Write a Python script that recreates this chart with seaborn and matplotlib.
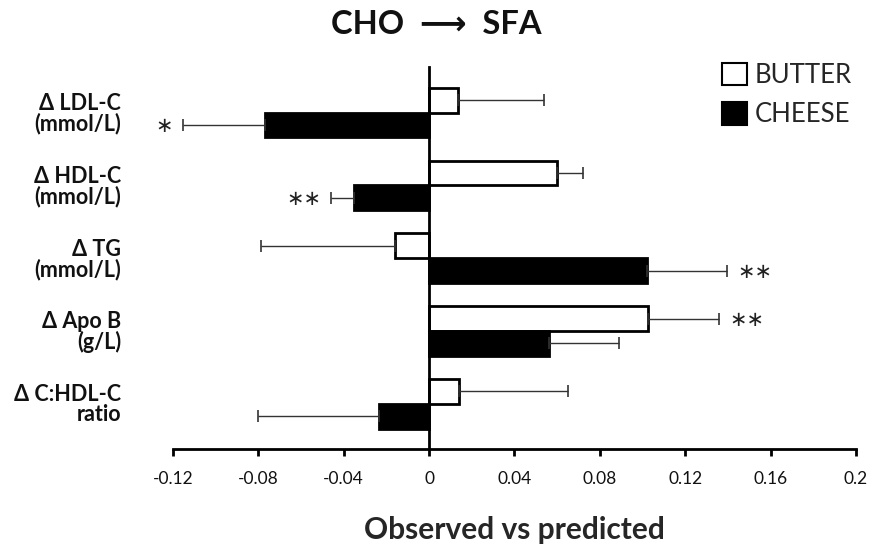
import matplotlib
matplotlib.use("Agg")
import matplotlib.pyplot as plt
import matplotlib.patches as mpatches
import seaborn as sns
import pandas as pd
import numpy as np

# ---- data ----
categories = ["Δ LDL-C", "Δ HDL-C", "Δ TG", "Δ Apo B", "Δ C:HDL-C"]
units = ["(mmol/L)", "(mmol/L)", "(mmol/L)", "(g/L)", "ratio"]
groups = ["BUTTER", "CHEESE"]
butter = [0.0134, 0.0599, -0.0159, 0.1027, 0.0142]
butter_err = [0.0406, 0.0120, 0.0629, 0.0333, 0.0508]
cheese = [-0.0770, -0.0351, 0.1020, 0.0562, -0.0234]
cheese_err = [0.0383, 0.0108, 0.0377, 0.0328, 0.0566]
butter_sig = ["", "", "", "∗∗", ""]
cheese_sig = ["∗", "∗∗", "∗∗", "", ""]
xticks = [-0.12, -0.08, -0.04, 0, 0.04, 0.08, 0.12, 0.16, 0.2]
xticklabels = ["-0.12", "-0.08", "-0.04", "0", "0.04", "0.08", "0.12", "0.16", "0.2"]

df = pd.DataFrame({
    "category": categories * 2,
    "group": [groups[0]] * len(categories) + [groups[1]] * len(categories),
    "value": butter + cheese,
    "err": butter_err + cheese_err,
    "sig": butter_sig + cheese_sig,
})

sns.set_theme(style="white")
plt.rcParams["font.family"] = ["Lato", "DejaVu Sans"]

fig = plt.figure(figsize=(8.74, 5.48), dpi=100)
ax = fig.add_axes([172.8 / 874, 1 - 449 / 548, (856 - 172.8) / 874, (449 - 66.7) / 548])

palette = {"BUTTER": "white", "CHEESE": "black"}
sns.barplot(data=df, y="category", x="value", hue="group", palette=palette,
            order=categories, hue_order=groups, orient="h", width=0.68,
            gap=0, errorbar=None, edgecolor="black", linewidth=2.0,
            saturation=1, legend=False, ax=ax)

# error bars and significance marks, using bar geometry
for container, g in zip(ax.containers, groups):
    sub = df[df["group"] == g].set_index("category").loc[categories]
    for bar, (cat, row) in zip(container, sub.iterrows()):
        y = bar.get_y() + bar.get_height() / 2
        v = row["value"]
        e = row["err"]
        if v >= 0:
            xerr = [[0], [e]]
            end = v + e
        else:
            xerr = [[e], [0]]
            end = v - e
        ax.errorbar([v], [y], xerr=xerr, fmt="none", ecolor="#333333",
                    elinewidth=1.0, capsize=4.5, capthick=1.2, zorder=1)
        if row["sig"]:
            ha = "left" if v >= 0 else "right"
            off = 7 if v >= 0 else -7
            ax.annotate(row["sig"], (end, y), xytext=(off, -1),
                        textcoords="offset points", ha=ha, va="center",
                        fontsize=15, color="#222222",
                        family="DejaVu Sans", annotation_clip=False)

ax.set_xlim(-0.12, 0.2)
ax.set_ylim(4.62, -0.63)
ax.set_xticks(xticks)
ax.set_xticklabels(xticklabels, fontsize=12.5)
ax.set_yticks([])
ax.set_ylabel("")
ax.set_xlabel("Observed vs predicted", fontsize=21.5, fontweight="bold", labelpad=21)

for s in ["top", "right"]:
    ax.spines[s].set_visible(False)
ax.spines["left"].set_position(("data", 0))
for s in ["left", "bottom"]:
    ax.spines[s].set_color("black")
    ax.spines[s].set_linewidth(2.0)
ax.tick_params(axis="x", direction="out", length=5, width=2.0, color="black",
               pad=11, bottom=True, labelcolor="#111111")

# category labels
for i, (cat, unit) in enumerate(zip(categories, units)):
    ax.text(-0.1443, i - 0.125, cat, ha="right", va="center", fontsize=15.5,
            fontweight="bold", color="#111111", clip_on=False)
    ax.text(-0.1443, i + 0.15, unit, ha="right", va="center", fontsize=15.5,
            fontweight="bold", color="#111111", clip_on=False)

# legend
handles = [mpatches.Patch(facecolor=palette[g], edgecolor="black", linewidth=1.5, label=g)
           for g in groups]
ax.legend(handles=handles, loc="upper left", bbox_to_anchor=(722 / 874, 1 - 63 / 548),
          bbox_transform=fig.transFigure, frameon=False, fontsize=18.5,
          handlelength=0.97, handleheight=0.97, handletextpad=0.3,
          labelspacing=0.55, borderpad=0, borderaxespad=0)

fig.text(436 / 874, 1 - 25 / 548, "CHO  ⟶  SFA", ha="center", va="center",
         fontsize=23.5, fontweight="bold", color="#111111")

fig.savefig("out.png", dpi=100)
